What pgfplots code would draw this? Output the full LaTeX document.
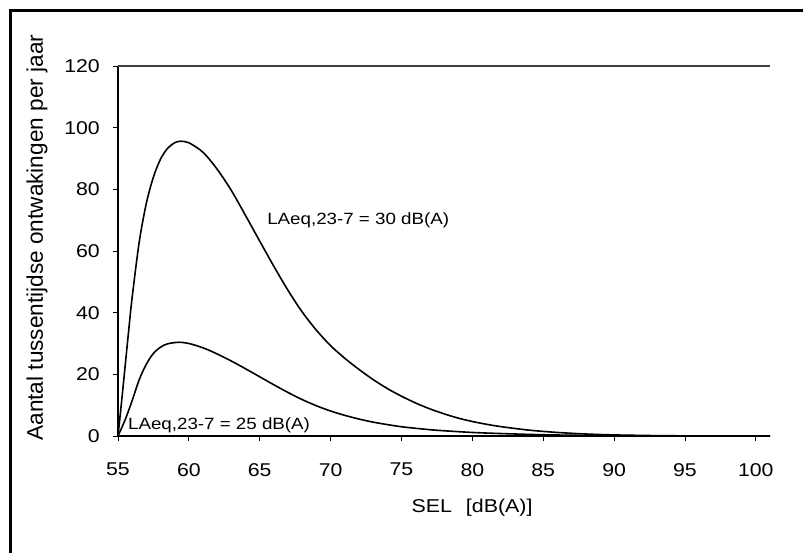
\documentclass[border=0pt]{standalone}
\usepackage{fontspec}
\setmainfont{Liberation Sans}[FakeStretch=1.15]
\newfontfamily\ylabfont{Liberation Sans}
\usepackage{pgfplots}
\pgfplotsset{compat=1.18}
\begin{document}
\begin{tikzpicture}
\useasboundingbox (0,0) rectangle (803pt,552pt);
\draw[line width=3pt] (10pt,-2pt) -- (10pt,541.3pt) -- (806pt,541.3pt);
\begin{axis}[
  at={(118pt,116pt)}, anchor=south west,
  scale only axis, width=652pt, height=370pt,
  xmin=55, xmax=101, ymin=0, ymax=120,
  axis x line*=bottom, axis y line*=left,
  axis line style={-, line width=1.3pt},
  xtick={55,60,...,100}, ytick={0,20,...,120},
  tick align=outside, major tick length=5pt,
  tick style={line width=0.8pt, black},
  /pgf/number format/assume math mode=true,
  ticklabel style={font=\fontsize{18.5}{22}\selectfont},
  yticklabel style={anchor=east, inner sep=0pt, xshift=-13pt},
  xticklabel style={anchor=north, inner sep=0pt},
  xticklabel shift=22pt,
  ylabel={Aantal tussentijdse ontwakingen per jaar},
  ylabel style={font=\ylabfont\fontsize{22.6}{26}\selectfont, at={(axis description cs:-0.124,0.536)}, anchor=center},
  clip=false,
]
\draw[black!75, line width=1.2pt] (rel axis cs:0,1) -- (rel axis cs:1,1);
\addplot[black, line width=1.6pt, smooth, tension=0.5] coordinates {
(55,0) (55.25,11) (55.5,22.5) (55.75,34) (56,45) (56.5,63) (57,75.5) (57.5,84)
(58,89.8) (58.5,93.3) (59,95.1) (59.4,95.6) (60,95.1) (61,92.0) (62,86.5)
(63,79.6) (64,71.5) (65,63.2) (66,55.0) (67,47.2) (68,40.2) (69,34.3)
(70,29.3) (71,25.2) (72,21.6) (73,18.3) (74,15.4) (75,12.9) (76,10.7)
(77,8.8) (78,7.2) (79,5.8) (80,4.7) (81,3.8) (82,3.05) (84,1.9) (86,1.15)
(88,0.65) (90,0.35) (93,0.12) (96,0.03) (101,0)
};
\addplot[black, line width=1.6pt, smooth, tension=0.5] coordinates {
(55,0) (55.5,5.2) (56,11.5) (56.5,18.3) (57,23.3) (57.5,26.8) (58,28.8)
(58.5,29.9) (59.3,30.4) (60,30.0) (61,28.6) (62,26.6) (63,24.3) (64,21.8)
(65,19.2) (66,16.6) (67,14.1) (68,11.8) (69,9.8) (70,8.1) (71,6.7) (72,5.5)
(73,4.5) (74,3.7) (75,3.0) (76,2.5) (77,2.05) (78,1.7) (80,1.15) (82,0.8)
(85,0.4) (88,0.2) (91,0.08) (95,0.02) (101,0)
};
\node[anchor=west, inner sep=0pt, font=\fontsize{16.3}{19}\selectfont] at (axis cs:65.52,70) {LAeq,23-7 = 30 dB(A)};
\node[anchor=west, inner sep=0pt, font=\fontsize{16.3}{19}\selectfont] at (axis cs:55.7,3.6) {LAeq,23-7 = 25 dB(A)};
\node[anchor=center, inner sep=0pt, font=\fontsize{18.6}{22}\selectfont] at (axis description cs:0.543,-0.195) {SEL\hspace{14pt}[dB(A)]};
\end{axis}
\end{tikzpicture}
\end{document}
